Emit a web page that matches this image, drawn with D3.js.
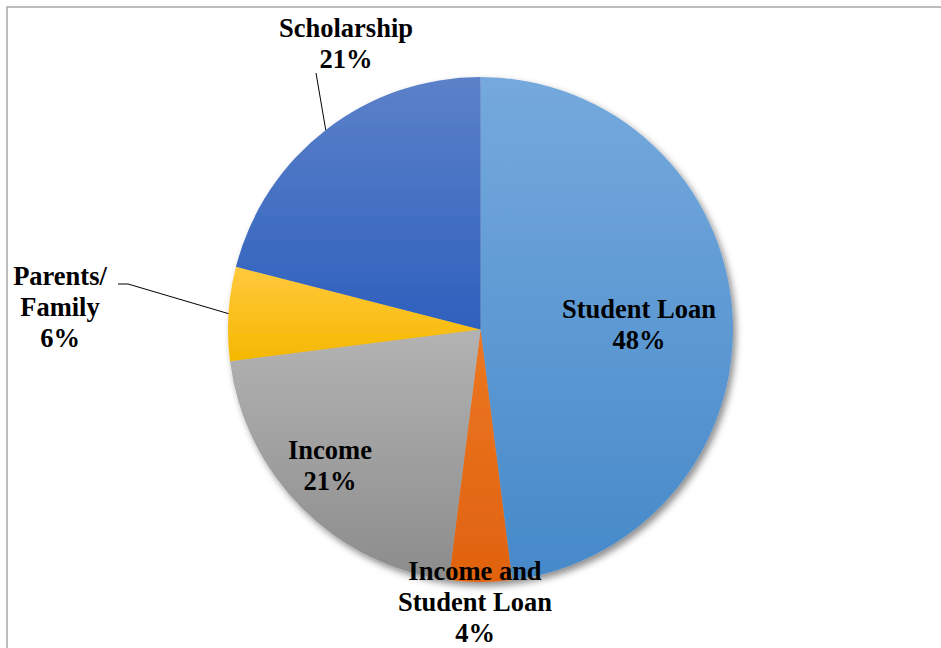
<!DOCTYPE html>
<html>
<head>
<meta charset="utf-8">
<script src="https://cdn.jsdelivr.net/npm/d3@7"></script>
<style>
  body { margin: 0; background: #fff; }
  .label { font-family: "Liberation Serif", "Times New Roman", serif; font-weight: bold; font-size: 26.5px; fill: #000; }
</style>
</head>
<body>
<div id="chart"></div>
<script>
// Chart data
const categories = ["Student Loan", "Income and Student Loan", "Income", "Parents/ Family", "Scholarship"];
const shares = [48, 4, 21, 6, 21];
const topColors = ["#75a9dd", "#ec7722", "#b3b3b3", "#ffc93d", "#5c81c9"];
const bottomColors = ["#4689c9", "#e0620f", "#8c8c8c", "#f5b800", "#2e60bd"];
// Label lines as shown in the chart
const labelLines = [
  ["Student Loan", "48%"],
  ["Income and", "Student Loan", "4%"],
  ["Income", "21%"],
  ["Parents/", "Family", "6%"],
  ["Scholarship", "21%"]
];

const svgWidth = 941;
const svgHeight = 648;
const cx = 480.5, cy = 329.5, radius = 252.5;

const svg = d3.select("#chart")
  .append("svg")
  .attr("width", svgWidth)
  .attr("height", svgHeight);

// Chart area border (only top and left visible)
svg.append("rect")
  .attr("x", 7).attr("y", 7)
  .attr("width", 960).attr("height", 700)
  .attr("fill", "none")
  .attr("stroke", "#a6a6a6")
  .attr("stroke-width", 1.5);

const defs = svg.append("defs");

const shadow = defs.append("filter")
  .attr("id", "shadow")
  .attr("x", "-10%").attr("y", "-10%")
  .attr("width", "130%").attr("height", "130%");
shadow.append("feDropShadow")
  .attr("dx", 3).attr("dy", 4)
  .attr("stdDeviation", 3.5)
  .attr("flood-color", "#000")
  .attr("flood-opacity", 0.45);

categories.forEach((c, i) => {
  const g = defs.append("linearGradient")
    .attr("id", "grad" + i)
    .attr("x1", 0).attr("y1", 0).attr("x2", 0).attr("y2", 1);
  g.append("stop").attr("offset", "0%").attr("stop-color", topColors[i]);
  g.append("stop").attr("offset", "100%").attr("stop-color", bottomColors[i]);
});

const pie = d3.pie().sort(null).value(d => d);
const arcs = pie(shares);

const arc = d3.arc().innerRadius(0).outerRadius(radius);

const pieGroup = svg.append("g")
  .attr("transform", `translate(${cx}, ${cy})`)
  .attr("filter", "url(#shadow)");

pieGroup.selectAll("path")
  .data(arcs)
  .enter()
  .append("path")
  .attr("d", arc)
  .attr("fill", (d, i) => `url(#grad${i})`);

// Label positions (centre x, first baseline y)
const labelPos = [
  [639, 318],
  [475, 580],
  [330, 459],
  [60, 285],
  [346, 37]
];
const lineHeight = 31;

arcs.forEach((d, i) => {
  const t = svg.append("text")
    .attr("class", "label")
    .attr("text-anchor", "middle");
  labelLines[i].forEach((line, j) => {
    t.append("tspan")
      .attr("x", labelPos[i][0])
      .attr("y", labelPos[i][1] + j * lineHeight)
      .text(line);
  });
});

// Leader lines, ending on the slice edge at its mid angle
const edgePoint = function(d) {
  const angle = (d.startAngle + d.endAngle) / 2;
  return [cx + radius * Math.sin(angle), cy - radius * Math.cos(angle)];
};

const scholarEnd = edgePoint(arcs[4]);
svg.append("polyline")
  .attr("points", `316,73 ${scholarEnd[0]},${scholarEnd[1]}`)
  .attr("fill", "none").attr("stroke", "#000").attr("stroke-width", 1);

const parentsEnd = edgePoint(arcs[3]);
svg.append("polyline")
  .attr("points", `118,284 128,284 ${parentsEnd[0]},${parentsEnd[1]}`)
  .attr("fill", "none").attr("stroke", "#000").attr("stroke-width", 1);
</script>
</body>
</html>
